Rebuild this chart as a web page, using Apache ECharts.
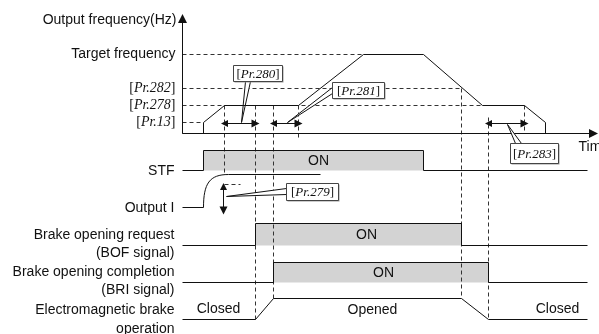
<!DOCTYPE html>
<html>
<head>
<meta charset="utf-8">
<script src="https://cdn.jsdelivr.net/npm/echarts@6/dist/echarts.min.js"></script>
<style>
html, body { margin: 0; padding: 0; background: #fff; }
#chart { width: 599px; height: 334px; }
</style>
</head>
<body>
<div id="chart"></div>
<script>
// time points (x) and signal levels (y), same units as the canvas

// output frequency
const freqLabels = ['Target frequency', '[{i|Pr.282}]', '[{i|Pr.278}]', '[{i|Pr.13}]']
const freqLevels = [54, 88, 105, 122]
const freqBase = 133
const freqT = [182, 203, 203, 224, 298, 363, 423, 482, 524, 545, 545]
const freqV = [133, 133, 122, 105, 105, 54, 54, 105, 105, 122, 133]

// signal lanes
const laneStart = 182
const laneEnd = 587
const laneLow = [170, 207, 245, 282, 319]
const laneHigh = [150, 174, 223, 262, 298]
const stfOn = [203, 423]
const outIRise = [203, 228]
const outIEnd = 320
const bofOn = [255, 461]
const briOn = [273, 488]
const brakeMove = [255, 273, 461, 488] // start open, opened, start close, closed

// timing guides (dashed)
const guideT = [224, 255, 273, 298, 461, 488, 524]
const guideTop = [105, 105, 105, 105, 88, 117, 105]
const guideBottom = [174, 319, 298, 138, 298, 319, 133]

// parameter spans
const spanNames = ['Pr.280', 'Pr.281', 'Pr.283']
const spanFrom = [224, 273, 488]
const spanTo = [255, 298, 524]
const spanLevel = 123

const ink = '#111'
const gray = '#d3d3d3'
const sansFamily = '"Liberation Sans", Arial, sans-serif'
const serifFamily = '"Liberation Serif", "Times New Roman", serif'

const chart = echarts.init(document.getElementById('chart'))

// polyline helpers
const pulse = (i, on) => [
  [laneStart, laneLow[i]], [on[0], laneLow[i]], [on[0], laneHigh[i]],
  [on[1], laneHigh[i]], [on[1], laneLow[i]], [laneEnd, laneLow[i]],
]
const lineSeries = (data, extra) => Object.assign({
  type: 'line', data: data, symbol: 'none', silent: true, animation: false,
  lineStyle: { color: ink, width: 1 },
}, extra || {})

const brakeLine = [
  [laneStart, laneLow[4]], [brakeMove[0], laneLow[4]], [brakeMove[1], laneHigh[4]],
  [brakeMove[2], laneHigh[4]], [brakeMove[3], laneLow[4]], [laneEnd, laneLow[4]],
]

// dashed segments
const dashSegs = []
guideT.forEach((t, i) => dashSegs.push([[t, guideTop[i]], [t, guideBottom[i]]]))
dashSegs.push([[laneStart, freqLevels[0]], [freqT[5], freqLevels[0]]])
dashSegs.push([[laneStart, freqLevels[1]], [guideT[4], freqLevels[1]]])
dashSegs.push([[laneStart, freqLevels[2]], [freqT[7], freqLevels[2]]])
dashSegs.push([[laneStart, freqLevels[3]], [freqT[1], freqLevels[3]]])
dashSegs.push([[guideT[0], 184], [240, 184]])

// double arrows
const arrowSegs = spanNames.map((n, i) => [[spanFrom[i], spanLevel], [spanTo[i], spanLevel]])
arrowSegs.push([[223, 186], [223, 210]])

// callout boxes: box [x1, y1, x2, y2], tip, base points on the box
const callouts = [
  { text: '[{i|Pr.280}]', box: [233, 65, 282, 81], tip: [241, 122], base: [[245, 81], [250, 81]] },
  { text: '[{i|Pr.281}]', box: [332, 82, 384, 98], tip: [287, 122], base: [[332, 87], [332, 93]] },
  { text: '[{i|Pr.283}]', box: [510, 143, 558, 163], tip: [507, 124], base: [[515, 143], [521, 143]] },
  { text: '[{i|Pr.279}]', box: [286, 183, 338, 200], tip: [226, 196], base: [[286, 188], [286, 194]] },
]

// text labels
const texts = []
texts.push({ x: 176, y: 20, text: 'Output frequency(Hz)', align: 'right' })
freqLabels.forEach((s, i) => texts.push({ x: 175, y: freqLevels[i], text: s, align: 'right', serif: i > 0 }))
texts.push({ x: 174, y: laneLow[0] + 1, text: 'STF', align: 'right' })
texts.push({ x: 174, y: laneLow[1] + 1, text: 'Output I', align: 'right' })
texts.push({ x: 174, y: 235, text: 'Brake opening request', align: 'right' })
texts.push({ x: 174, y: 253, text: '(BOF signal)', align: 'right' })
texts.push({ x: 174, y: 272, text: 'Brake opening completion', align: 'right' })
texts.push({ x: 174, y: 290, text: '(BRI signal)', align: 'right' })
texts.push({ x: 174, y: 310, text: 'Electromagnetic brake', align: 'right' })
texts.push({ x: 174, y: 329, text: 'operation', align: 'right' })
texts.push({ x: 318, y: 161, text: 'ON', align: 'center' })
texts.push({ x: 366, y: 235, text: 'ON', align: 'center' })
texts.push({ x: 383, y: 273, text: 'ON', align: 'center' })
texts.push({ x: 218, y: 309, text: 'Closed', align: 'center' })
texts.push({ x: 372, y: 310, text: 'Opened', align: 'center' })
texts.push({ x: 557, y: 309, text: 'Closed', align: 'center' })
texts.push({ x: 578, y: 147, text: 'Time', align: 'left' })

const richItalic = { i: { fontStyle: 'italic', fontSize: 14, fontFamily: serifFamily, fill: ink } }
const richBox = { i: { fontStyle: 'italic', fontSize: 13, fontFamily: serifFamily, fill: ink } }

const options = {
  backgroundColor: '#fff',
  animation: false,
  grid: { left: 0, right: 0, top: 0, bottom: 0 },
  xAxis: { type: 'value', min: -0.5, max: 598.5, show: false },
  yAxis: { type: 'value', min: -0.5, max: 333.5, inverse: true, show: false },
  series: [
    // ON boxes
    {
      type: 'custom',
      silent: true,
      data: [[stfOn[0], stfOn[1], 0], [bofOn[0], bofOn[1], 2], [briOn[0], briOn[1], 3]],
      renderItem: function (params, api) {
        const lane = api.value(2)
        const p1 = api.coord([api.value(0), laneHigh[lane]])
        const p2 = api.coord([api.value(1), laneLow[lane]])
        return {
          type: 'rect',
          shape: { x: p1[0], y: p1[1], width: p2[0] - p1[0], height: p2[1] - p1[1] },
          style: { fill: gray },
        }
      },
    },
    // output frequency curve
    lineSeries(freqT.map((t, i) => [t, freqV[i]])),
    // signals
    lineSeries(pulse(0, stfOn)),
    lineSeries([[laneStart, laneLow[1]], [outIRise[0], laneLow[1]]]),
    lineSeries([[outIRise[1], laneHigh[1]], [outIEnd, laneHigh[1]]]),
    lineSeries(pulse(2, bofOn)),
    lineSeries(pulse(3, briOn)),
    lineSeries(brakeLine),
    // output current rise
    {
      type: 'custom',
      silent: true,
      data: [[outIRise[0], outIRise[1]]],
      renderItem: function (params, api) {
        const a = api.coord([api.value(0), laneLow[1]])
        const b = api.coord([api.value(1), laneHigh[1]])
        return {
          type: 'bezierCurve',
          shape: {
            x1: a[0], y1: a[1], x2: b[0], y2: b[1],
            cpx1: a[0], cpy1: a[1] - 24, cpx2: a[0] + 6, cpy2: b[1],
          },
          style: { stroke: ink, fill: null, lineWidth: 1 },
        }
      },
    },
    // dashed guides
    {
      type: 'lines',
      coordinateSystem: 'cartesian2d',
      silent: true,
      data: dashSegs.map(s => ({ coords: s })),
      lineStyle: { color: '#333', width: 1, type: [4, 3], opacity: 1 },
    },
    // axes
    {
      type: 'lines',
      coordinateSystem: 'cartesian2d',
      silent: true,
      symbol: ['none', 'triangle'],
      symbolSize: [7, 9],
      data: [
        { coords: [[laneStart, freqBase], [laneStart, 18]] },
        { coords: [[laneStart, freqBase], [593, freqBase]] },
      ],
      lineStyle: { color: ink, width: 1, opacity: 1 },
    },
    // double arrows
    {
      type: 'lines',
      coordinateSystem: 'cartesian2d',
      silent: true,
      symbol: ['triangle', 'triangle'],
      symbolSize: [7, 8],
      data: arrowSegs.map(s => ({ coords: s })),
      lineStyle: { color: ink, width: 1, opacity: 1 },
    },
    // callouts
    {
      type: 'custom',
      silent: true,
      data: callouts.map((c, i) => [i]),
      renderItem: function (params, api) {
        const c = callouts[api.value(0)]
        const b1 = api.coord([c.box[0], c.box[1]])
        const b2 = api.coord([c.box[2], c.box[3]])
        const tip = api.coord(c.tip)
        const p1 = api.coord(c.base[0])
        const p2 = api.coord(c.base[1])
        return {
          type: 'group',
          children: [
            {
              type: 'polygon',
              shape: { points: [tip, p1, p2] },
              style: { fill: '#fff', stroke: ink, lineWidth: 1 },
            },
            {
              type: 'rect',
              shape: { x: b1[0] + 1, y: b1[1] + 1, width: b2[0] - b1[0], height: b2[1] - b1[1] },
              style: { fill: '#999' },
            },
            {
              type: 'rect',
              shape: { x: b1[0], y: b1[1], width: b2[0] - b1[0], height: b2[1] - b1[1] },
              style: { fill: '#fff', stroke: '#444', lineWidth: 1 },
            },
            {
              type: 'text',
              x: (b1[0] + b2[0]) / 2,
              y: (b1[1] + b2[1]) / 2 + 1,
              style: {
                text: c.text, fill: ink, fontSize: 13, fontFamily: serifFamily,
                align: 'center', verticalAlign: 'middle', rich: richBox,
              },
            },
          ],
        }
      },
    },
    // text labels
    {
      type: 'custom',
      silent: true,
      data: texts.map((t, i) => [i]),
      renderItem: function (params, api) {
        const t = texts[api.value(0)]
        const p = api.coord([t.x, t.y])
        return {
          type: 'text',
          x: p[0],
          y: p[1],
          style: {
            text: t.text,
            fill: ink,
            fontSize: 14,
            fontFamily: t.serif ? serifFamily : sansFamily,
            align: t.align,
            verticalAlign: 'middle',
            rich: t.serif ? richItalic : undefined,
          },
        }
      },
    },
  ],
}
chart.setOption(options)
</script>
</body>
</html>
